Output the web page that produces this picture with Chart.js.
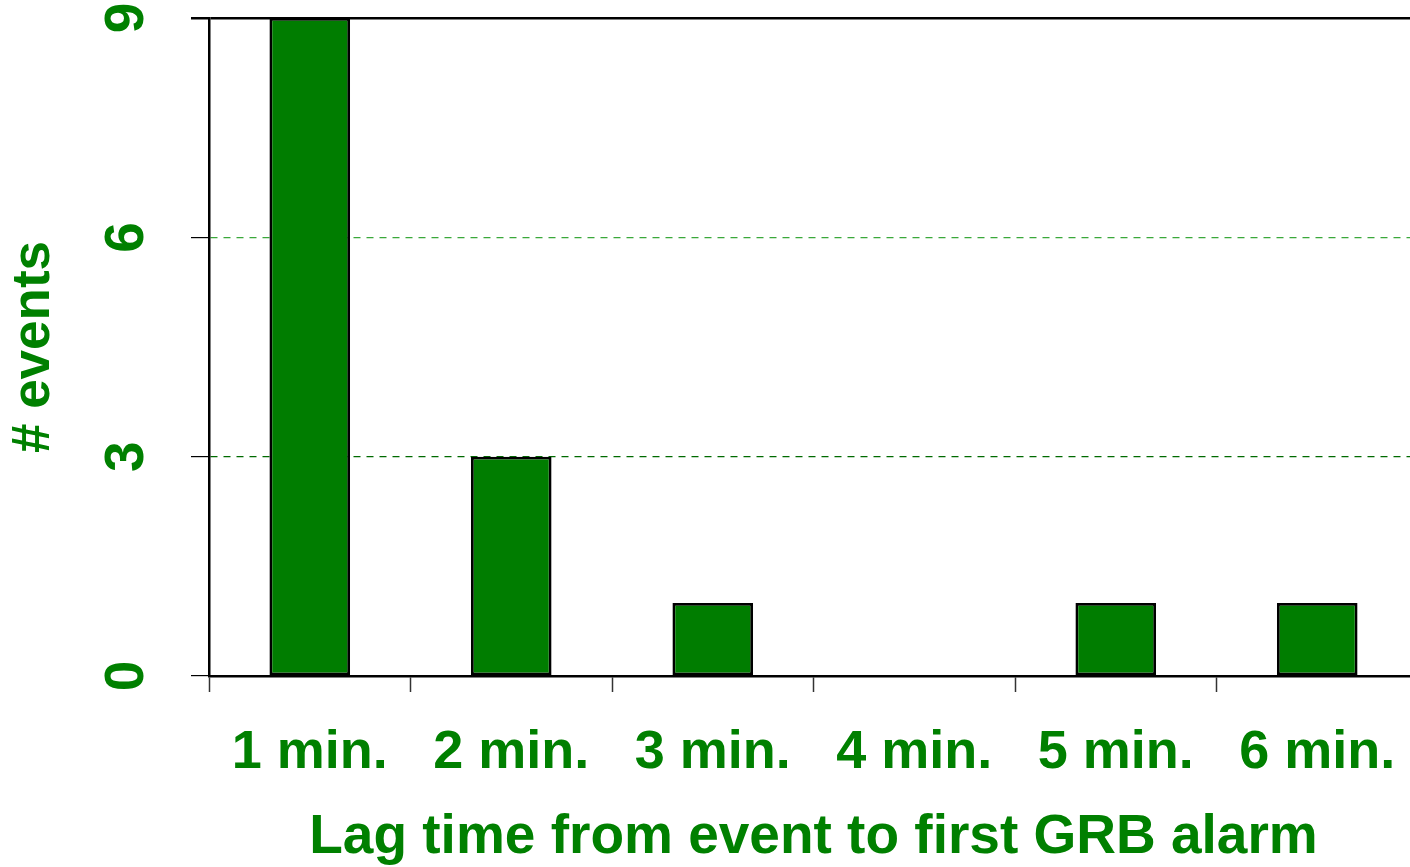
<!DOCTYPE html>
<html>
<head>
<meta charset="utf-8">
<script src="https://cdn.jsdelivr.net/npm/chart.js@4/dist/chart.umd.min.js"></script>
<style>
  html, body { margin: 0; padding: 0; background: #fff; overflow: hidden; }
  /* plot runs a few px past the right edge in the original */
  #wrap { width: 1418px; height: 867px; }
</style>
</head>
<body>
<div id="wrap"><canvas id="lag"></canvas></div>
<script>
const labels = ['1 min.', '2 min.', '3 min.', '4 min.', '5 min.', '6 min.'];
const events = [9, 3, 1, 0, 1, 1];
const yTicks = [0, 3, 6, 9];

const green = '#008000';
const fontFam = '"Liberation Sans", Arial, sans-serif';

const ctxLag = document.getElementById('lag').getContext('2d');
const lagChart = new Chart(ctxLag, {
    type: 'bar',
    data: {
        labels,
        datasets: [{
            data: events,
            backgroundColor: '#007d00',
            borderColor: '#000000',
            borderWidth: 2.8,
            borderSkipped: false,
            categoryPercentage: 1,
            barPercentage: 0.4
        }]
    },
    options: {
        responsive: true,
        maintainAspectRatio: false,
        animation: false,
        layout: {
            padding: { top: 18, left: 0, right: 0, bottom: 0 }
        },
        plugins: {
            legend: { display: false },
            tooltip: { enabled: false }
        },
        scales: {
            x: {
                offset: true,
                grid: {
                    offset: true,
                    drawOnChartArea: false,
                    tickLength: 16,
                    tickColor: '#333333',
                    tickWidth: 1.5
                },
                border: { color: '#000000', width: 2.5 },
                ticks: {
                    color: green,
                    padding: 34,
                    maxRotation: 0,
                    font: { size: 54, weight: 'bold', family: fontFam, lineHeight: 1 }
                },
                title: {
                    display: true,
                    text: 'Lag time from event to first GRB alarm',
                    color: green,
                    padding: { top: 0, bottom: 2 },
                    font: { size: 55, weight: 'bold', family: fontFam, lineHeight: 1 }
                },
                afterFit(scale) {
                    scale.height = 191;
                    scale.paddingLeft = 0;
                    scale.paddingRight = 0;
                }
            },
            y: {
                min: 0,
                max: 9,
                afterBuildTicks(scale) {
                    scale.ticks = yTicks.map(v => ({ value: v }));
                },
                grid: {
                    tickLength: 18,
                    tickColor: '#000000',
                    tickBorderDash: [],
                    lineWidth: ctx => (ctx.tick && ctx.tick.value === 9 ? 2.5 : 1.2),
                    color: ctx => {
                        const v = ctx.tick ? ctx.tick.value : 0;
                        if (v === 3) return '#006a00';
                        if (v === 6) return '#3aa83a';
                        return '#000000';
                    }
                },
                border: {
                    color: '#000000',
                    width: 2.5,
                    dash: ctx => (ctx.tick && (ctx.tick.value === 3 || ctx.tick.value === 6) ? [7, 6] : [])
                },
                ticks: {
                    color: green,
                    padding: 48,
                    crossAlign: 'center',
                    minRotation: 90,
                    maxRotation: 90,
                    font: { size: 55, weight: 'bold', family: fontFam, lineHeight: 1 }
                },
                title: {
                    display: true,
                    text: '# events',
                    color: green,
                    padding: { top: 8, bottom: 0 },
                    font: { size: 53, weight: 'bold', family: fontFam, lineHeight: 1 }
                },
                afterFit(scale) {
                    scale.width = 209;
                    scale.paddingTop = 0;
                    scale.paddingBottom = 0;
                }
            }
        }
    }
});
</script>
</body>
</html>
